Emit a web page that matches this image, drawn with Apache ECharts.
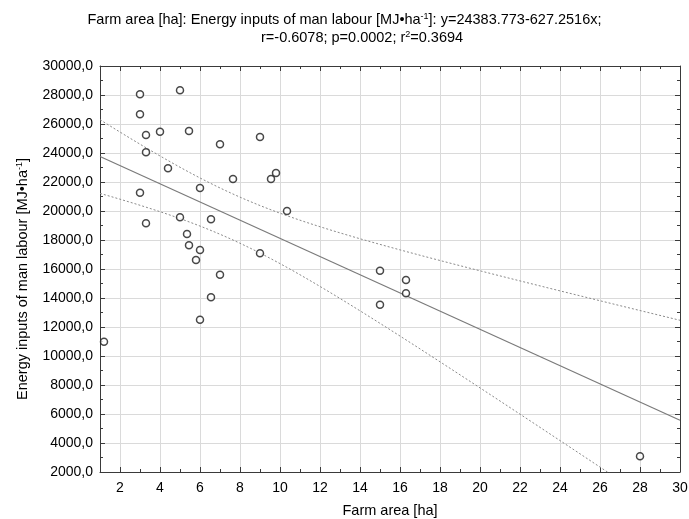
<!DOCTYPE html>
<html>
<head>
<meta charset="utf-8">
<script src="https://cdn.jsdelivr.net/npm/echarts@6/dist/echarts.min.js"></script>
<style>
  html, body { margin: 0; padding: 0; background: #ffffff; }
  #chart { width: 689px; height: 519px; }
</style>
</head>
<body>
<div id="chart"></div>
<script>
// Farm area [ha] of each farm
const farmArea = [
  3, 5, 3, 3.3, 4, 5.45, 3.3, 7, 9, 4.4, 7.65,
  9.55, 9.8, 6, 3, 10.35, 3.3, 5, 6.55, 5.35, 5.45, 6,
  9, 5.8, 7, 6.55, 6, 1.2, 15, 16.3, 16.3, 15, 28
];
// Energy inputs of man labour [MJ/ha] of each farm
const manLabour = [
  28050, 28320, 26670, 25240, 25470, 25520, 24050, 24600, 25100, 22950, 22200,
  22200, 22620, 21590, 21260, 20000, 19150, 19570, 19430, 18410, 17630, 17310,
  17080, 16620, 15610, 14050, 12500, 10990, 15880, 15240, 14320, 13540, 3080
];

// Fitted regression y = a + b x
const intercept = 24383.773;
const slope = -627.2516;
// Student t quantile (0.975, df = 31) for the 95% confidence band
const tCrit = 2.0395;

// Axis ticks
const xMajorTicks = [2, 4, 6, 8, 10, 12, 14, 16, 18, 20, 22, 24, 26, 28, 30];
const xMinorTicks = [3, 5, 7, 9, 11, 13, 15, 17, 19, 21, 23, 25, 27, 29];

const titleLine1 = 'Farm area [ha]: Energy inputs of man labour [MJ•ha{s|-1}]: y=24383.773-627.2516x;';
const titleLine2 = 'r=-0.6078; p=0.0002; r{s|2}=0.3694';
const xName = 'Farm area [ha]';
const yName = 'Energy inputs of man labour [MJ•ha{s|-1}]';

// ---- regression line and confidence band ----
const n = farmArea.length;
const meanX = farmArea.reduce((s, v) => s + v, 0) / n;
const sxx = farmArea.reduce((s, v) => s + (v - meanX) * (v - meanX), 0);
const sse = farmArea.reduce((s, v, i) => {
  const r = manLabour[i] - (intercept + slope * v);
  return s + r * r;
}, 0);
const se = Math.sqrt(sse / (n - 2));

const fitLine = [1, 30].map(x => [x, intercept + slope * x]);
const upperBand = [];
const lowerBand = [];
for (let k = 0; k <= 116; k++) {
  const x = 1 + k * 0.25;
  const yh = intercept + slope * x;
  const h = tCrit * se * Math.sqrt(1 / n + (x - meanX) * (x - meanX) / sxx);
  upperBand.push([x, yh + h]);
  lowerBand.push([x, yh - h]);
}

const FONT = '"Liberation Sans", Arial, sans-serif';
const frameColor = '#3a3a3a';
const gridColor = '#dadada';
const supStyle = { fontSize: 9, fontFamily: FONT, color: '#000', verticalAlign: 'top', lineHeight: 10 };

const chart = echarts.init(document.getElementById('chart'), null, { renderer: 'canvas' });

function xAxisCfg(pos, ticks, len, isMain) {
  return {
    type: 'value', min: 1, max: 30, position: pos,
    axisLine: { show: isMain, onZero: false, lineStyle: { color: frameColor, width: 1 } },
    axisTick: { show: true, inside: true, length: len, customValues: ticks, lineStyle: { color: frameColor } },
    axisLabel: pos === 'bottom' && isMain
      ? { show: true, customValues: xMajorTicks, fontSize: 14, color: '#000', fontFamily: FONT, margin: 9 }
      : { show: false },
    splitLine: pos === 'bottom' && isMain
      ? { show: true, lineStyle: { color: gridColor, width: 1 } }
      : { show: false }
  };
}

function yAxisCfg(pos) {
  const main = pos === 'left';
  return {
    type: 'value', min: 2000, max: 30000, interval: 2000, position: pos,
    axisLine: { show: true, onZero: false, lineStyle: { color: frameColor, width: 1 } },
    axisTick: { show: true, inside: true, length: 5, lineStyle: { color: frameColor } },
    minorTick: { show: true, splitNumber: 2, length: 3, lineStyle: { color: frameColor } },
    axisLabel: main
      ? { show: true, fontSize: 14, color: '#000', fontFamily: FONT, margin: 7,
          formatter: v => v.toFixed(1).replace('.', ',') }
      : { show: false },
    splitLine: main ? { show: true, lineStyle: { color: gridColor, width: 1 } } : { show: false },
    name: main ? yName : '',
    nameLocation: 'middle',
    nameGap: 70,
    nameTextStyle: { fontSize: 14.5, color: '#000', fontFamily: FONT, padding: [0, 20, 0, 0],
                     rich: { s: supStyle } }
  };
}

const xMain = xAxisCfg('bottom', xMajorTicks, 5, true);
xMain.name = xName;
xMain.nameLocation = 'middle';
xMain.nameGap = 31;
xMain.nameTextStyle = { fontSize: 14.5, color: '#000', fontFamily: FONT };

const titleStyle = { fontSize: 14.5, fontWeight: 'normal', color: '#000', fontFamily: FONT,
                     rich: { s: supStyle } };

const option = {
  backgroundColor: '#ffffff',
  animation: false,
  title: [
    { text: titleLine1, left: 'center', top: 7, textStyle: titleStyle },
    { text: titleLine2, left: 256, top: 25, textStyle: titleStyle }
  ],
  grid: { left: 100, right: 9, top: 66, bottom: 47, containLabel: false, outerBoundsMode: 'none' },
  xAxis: [
    xMain,
    xAxisCfg('bottom', xMinorTicks, 3, false),
    xAxisCfg('top', xMajorTicks, 5, true),
    xAxisCfg('top', xMinorTicks, 3, false)
  ],
  yAxis: [yAxisCfg('left'), yAxisCfg('right')],
  series: [
    {
      name: 'upper', type: 'line', data: upperBand, showSymbol: false, symbol: 'none',
      smooth: false, clip: true, z: 2,
      lineStyle: { color: '#8a8a8a', width: 1, type: [2, 2] }
    },
    {
      name: 'lower', type: 'line', data: lowerBand, showSymbol: false, symbol: 'none',
      smooth: false, clip: true, z: 2,
      lineStyle: { color: '#8a8a8a', width: 1, type: [2, 2] }
    },
    {
      name: 'fit', type: 'line', data: fitLine, showSymbol: false, symbol: 'none',
      clip: true, z: 3,
      lineStyle: { color: '#7a7a7a', width: 1.2 }
    },
    {
      name: 'farms', type: 'scatter', z: 5,
      data: farmArea.map((x, i) => [x, manLabour[i]]),
      symbol: 'circle', symbolSize: 7,
      itemStyle: { color: '#ffffff', borderColor: '#1a1a1a', borderWidth: 1.5 }
    }
  ]
};

chart.setOption(option);
</script>
</body>
</html>
